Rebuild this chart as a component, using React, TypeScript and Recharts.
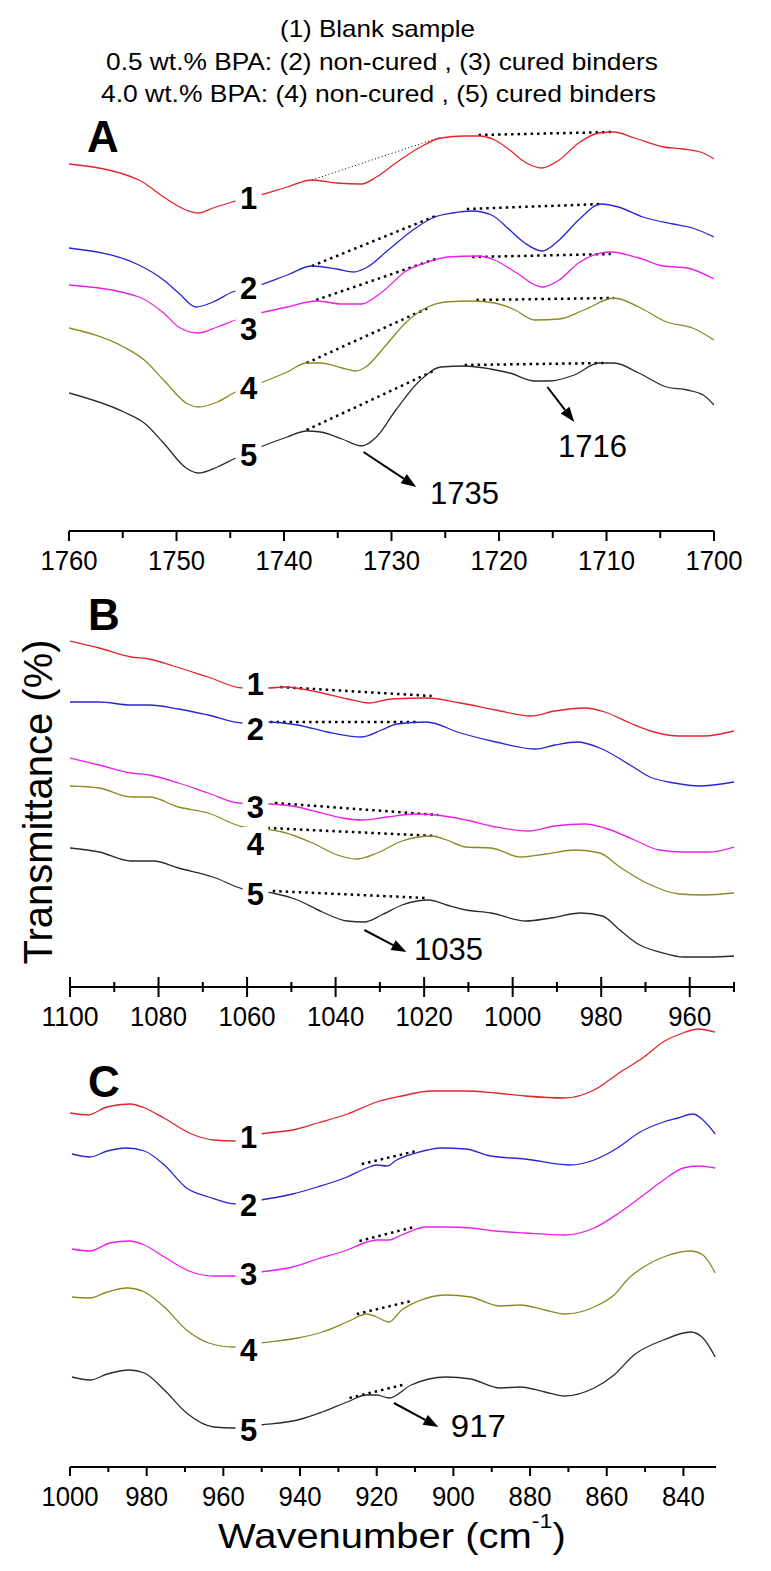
import React from 'react';
import { LineChart, Line, XAxis, YAxis, ReferenceLine, ReferenceDot } from 'recharts';

type Pt = [number, number];
type Seg = [number, number, number, number, number?];
type Note = { w: number; t: number; text: string };

const FONT = '"Liberation Sans", Arial, sans-serif';

// ---- panel A: 1760-1700 cm-1 (wavenumber, transmittance a.u.)
const redA: Pt[] = [
  [1760, 36.7], [1753.5, 35.1], [1751.2, 33.4], [1749.1, 32.1], [1748, 31.8], [1746.6, 32.3],
  [1744.8, 32.9], [1742.2, 33.6], [1739.7, 34.4], [1737.4, 35.1], [1735.1, 34.8], [1732.8, 34.7],
  [1731.4, 35.4], [1729.6, 36.8], [1727.3, 38.4], [1725.4, 39.3], [1723.2, 39.5], [1721.8, 39.5],
  [1720.4, 39.1], [1719, 38.1], [1717.6, 36.9], [1716, 36.3], [1714.4, 37.1], [1712.6, 38.8],
  [1710.7, 39.8], [1709.3, 39.9], [1707.4, 39.3], [1704.7, 38.4], [1702.9, 38.2], [1701, 37.8], [1700, 37.2],
];
const blueA: Pt[] = [
  [1760, 28.3], [1753.5, 26.6], [1751.2, 25.1], [1749.8, 23.8], [1748.2, 22.4], [1746.6, 22.9],
  [1744.8, 23.9], [1742.2, 24.6], [1739.7, 25.6], [1737.4, 26.5], [1735.1, 26.2], [1733.5, 25.9],
  [1732.4, 26.3], [1730.3, 28.1], [1728, 30.1], [1726.2, 31.3], [1724.3, 31.8], [1722.5, 32.0],
  [1720.7, 31.6], [1719, 30.1], [1717.6, 28.8], [1716, 28.0], [1714.4, 29.1], [1712.6, 31.1],
  [1710.5, 32.7], [1708.9, 32.4], [1706.6, 31.4], [1703.8, 30.7], [1702, 30.3], [1700, 29.4],
];
const magentaA: Pt[] = [
  [1760, 24.6], [1753.5, 23.4], [1751.2, 21.8], [1749.8, 20.4], [1748, 19.8], [1746.2, 20.4],
  [1744.5, 21.1], [1742.2, 21.8], [1739.7, 22.4], [1737, 23.0], [1734.6, 22.7], [1732.8, 22.7],
  [1731, 23.8], [1728.5, 26.1], [1726.6, 26.9], [1724.8, 27.4], [1722, 27.5], [1720.4, 27.1],
  [1718.5, 25.9], [1716, 24.4], [1714.4, 25.1], [1712.6, 26.8], [1709.6, 27.9], [1707, 27.3],
  [1704.7, 26.5], [1702.5, 26.3], [1700, 25.2],
];
const oliveA: Pt[] = [
  [1760, 20.3], [1754.9, 18.4], [1753, 17.1], [1751.2, 15.1], [1749.1, 12.8], [1748, 12.4],
  [1746.2, 12.9], [1744.5, 13.9], [1742.2, 14.8], [1739.7, 15.9], [1737.9, 16.8], [1736.6, 16.8],
  [1734.6, 16.3], [1733.3, 16.0], [1732.4, 16.4], [1730.5, 18.6], [1728.7, 20.8], [1726.8, 22.3],
  [1725, 22.9], [1722.6, 23.0], [1720.4, 22.8], [1718.5, 22.1], [1716.7, 21.1], [1714.4, 21.2],
  [1712.1, 22.1], [1709.3, 23.3], [1707, 22.4], [1704.4, 20.9], [1702, 20.3], [1700, 19.1],
];
const blackA: Pt[] = [
  [1760, 13.8], [1754.9, 11.9], [1753, 10.8], [1751.2, 8.8], [1749.1, 6.3], [1748, 5.8],
  [1746.2, 6.4], [1744.5, 7.3], [1742.2, 8.4], [1739.7, 9.4], [1737.9, 10.0], [1736.6, 9.9],
  [1734.6, 9.2], [1732.8, 8.5], [1731.4, 9.4], [1729.6, 12.1], [1727.3, 15.1], [1725.4, 16.4],
  [1723.2, 16.5], [1720.8, 16.2], [1719, 15.8], [1716.7, 15.0], [1715.3, 15.0], [1713, 15.6],
  [1710.7, 16.8], [1709.3, 16.8], [1707, 15.8], [1704.4, 14.4], [1702.5, 14.1], [1701, 13.6], [1700, 12.6],
];

// ---- panel B: 1100-950 cm-1
const redB: Pt[] = [
  [1100, 34.6], [1093.4, 33.9], [1086.2, 33.0], [1082.1, 32.8], [1076.7, 32.1], [1068.8, 31.0],
  [1060.9, 29.9], [1055.4, 29.9], [1051.4, 30.0], [1044.1, 29.5], [1037.3, 28.8], [1032.4, 28.4],
  [1027.4, 28.8], [1019.5, 28.9], [1011.8, 28.4], [1003.8, 27.7], [995.9, 27.1], [990.5, 27.6],
  [983.7, 27.9], [979.2, 27.5], [973.5, 26.4], [968.1, 25.5], [962.4, 25.1], [956.8, 25.1], [950, 25.6],
];
const blueB: Pt[] = [
  [1100, 28.5], [1093.4, 28.5], [1086.2, 28.2], [1082.1, 28.2], [1075.5, 27.8], [1068.8, 27.2],
  [1060.9, 26.4], [1055.4, 26.5], [1048.6, 26.2], [1041.9, 25.5], [1034.1, 25.0], [1029.6, 25.7],
  [1026.2, 26.3], [1019.5, 26.5], [1011.8, 25.4], [1003.8, 24.5], [994.8, 23.8], [990.5, 24.2],
  [985.4, 24.5], [980.3, 23.9], [973.5, 22.2], [969, 21.0], [963.5, 20.4], [957.9, 20.1], [950, 20.5],
];
const magentaB: Pt[] = [
  [1100, 22.9], [1093.4, 22.2], [1086.2, 21.4], [1082.1, 21.2], [1075.5, 20.4], [1068.8, 19.4],
  [1062, 18.4], [1054.8, 18.3], [1048.6, 18.0], [1044, 17.5], [1038.5, 16.9], [1034, 16.7],
  [1028.4, 17.0], [1021.7, 17.3], [1017.2, 17.2], [1010.5, 16.7], [1003.8, 16.0], [996.5, 15.6],
  [990.5, 16.1], [983.7, 16.3], [979.2, 15.9], [972.5, 14.7], [966.9, 13.7], [961.3, 13.5],
  [955.7, 13.5], [950, 14.0],
];
const oliveB: Pt[] = [
  [1100, 20.1], [1093.4, 19.9], [1086.2, 19.0], [1082.1, 19.0], [1075.5, 18.0], [1068.8, 17.4],
  [1060.9, 16.0], [1056, 15.8], [1052, 15.5], [1045.2, 14.4], [1039.6, 13.2], [1035.1, 12.8],
  [1030.6, 13.4], [1025, 14.6], [1018.3, 15.1], [1014.9, 14.7], [1010.5, 14.0], [1004.9, 13.9],
  [998.2, 13.0], [992.5, 13.3], [985.8, 13.7], [980.3, 13.4], [975.8, 12.0], [970.2, 10.5],
  [962.4, 9.3], [956.8, 9.2], [950, 9.4],
];
const blackB: Pt[] = [
  [1100, 13.9], [1093.4, 13.5], [1086.2, 12.6], [1081.1, 12.6], [1075.5, 11.9], [1067.7, 11.0],
  [1060.9, 9.8], [1054.2, 9.4], [1048.6, 8.7], [1043, 7.5], [1037.4, 6.6], [1033.5, 6.5],
  [1029.6, 7.2], [1025, 8.2], [1018.9, 8.7], [1014.9, 8.2], [1010.5, 7.7], [1004.9, 7.4],
  [997, 6.6], [991.4, 6.9], [984.7, 7.4], [979.7, 7.1], [975.8, 5.7], [971.3, 4.2], [966.8, 3.5],
  [961.3, 3.0], [955.7, 3.0], [950, 3.1],
];

// ---- panel C: 1000-832 cm-1
const redC: Pt[] = [
  [1000, 35.4], [995.3, 35.2], [990.4, 36.0], [984.4, 36.3], [980.5, 35.9], [975.5, 34.9],
  [968.3, 33.3], [962.5, 32.7], [956.8, 32.6], [950.3, 33.3], [941.9, 33.7], [935.4, 34.4],
  [927.6, 35.3], [920, 36.5], [913.5, 37.1], [905.7, 37.6], [896.9, 37.6], [889.1, 37.4],
  [881.3, 37.1], [871.1, 36.9], [863.3, 37.7], [856.8, 39.4], [850.3, 41.0], [845.3, 42.5],
  [840.1, 43.4], [836.2, 43.8], [831.8, 43.5],
];
const blueC: Pt[] = [
  [999.5, 31.3], [994.8, 31.0], [990.3, 31.6], [985.1, 31.9], [980.6, 31.6], [975.4, 30.2],
  [969.6, 27.9], [963.8, 27.0], [956.7, 26.3], [950.3, 26.7], [941.9, 27.3], [935.5, 28.0],
  [927.7, 29.0], [922.6, 29.9], [920, 30.2], [917.4, 30.1], [914.8, 30.7], [909.7, 31.4],
  [903.2, 31.9], [896.8, 31.8], [890.3, 31.1], [881.3, 30.8], [869.7, 30.2], [863.3, 30.7],
  [856.8, 32.0], [851.7, 33.4], [845.2, 34.5], [841.4, 34.9], [837.5, 35.3], [834.9, 34.7], [831.7, 33.3],
];
const magentaC: Pt[] = [
  [999.5, 21.8], [994.8, 21.6], [989.6, 22.4], [984.5, 22.6], [980.6, 22.2], [975.4, 21.0],
  [969, 19.6], [962.5, 19.1], [956.7, 19.1], [950.3, 19.5], [941.9, 20.0], [935.5, 20.8],
  [927.7, 21.7], [922.6, 22.5], [920, 22.7], [916.8, 22.7], [913.5, 23.2], [907.1, 24.0],
  [902, 24.0], [895.5, 23.9], [889.1, 23.6], [881.3, 23.4], [871, 23.2], [863.3, 23.9],
  [856.8, 25.4], [850.4, 27.2], [845.2, 28.7], [840, 29.9], [836.2, 30.1], [831.7, 29.9],
];
const oliveC: Pt[] = [
  [999.5, 17.0], [994.8, 16.9], [990.3, 17.5], [985.1, 17.9], [980.6, 17.5], [975.4, 16.0],
  [969.6, 13.7], [963.8, 12.4], [957.4, 12.0], [950.3, 12.4], [940.6, 12.9], [934.2, 13.5],
  [927.7, 14.5], [922.6, 15.3], [920, 15.0], [916.8, 14.5], [913.5, 15.7], [909.7, 16.5],
  [902, 17.2], [895.5, 17.0], [887.8, 16.1], [882.6, 16.2], [876.1, 15.7], [871, 15.3],
  [863.3, 16.0], [858.1, 17.2], [854.2, 18.9], [850.4, 20.0], [845.2, 21.0], [838.1, 21.6],
  [834.9, 21.2], [831.7, 19.4],
];
const blackC: Pt[] = [
  [999.5, 9.0], [994.8, 8.7], [990.3, 9.3], [984.5, 9.7], [980.6, 9.4], [975.4, 7.7],
  [969.6, 5.4], [962.5, 4.0], [957.4, 3.9], [950.3, 4.2], [940.6, 4.7], [934.2, 5.5],
  [927.7, 6.5], [922.6, 7.2], [920, 7.2], [916.8, 6.9], [911, 8.2], [902, 9.0], [895.5, 8.8],
  [887.8, 7.9], [882.6, 8.0], [876.1, 7.5], [871, 7.1], [863.3, 7.9], [858.1, 9.2],
  [852.9, 11.2], [845.2, 12.7], [838.1, 13.5], [834.9, 12.9], [831.7, 11.0],
];

const ticksA = [1760, 1755, 1750, 1745, 1740, 1735, 1730, 1725, 1720, 1715, 1710, 1705, 1700];
const ticksB = [1100, 1090, 1080, 1070, 1060, 1050, 1040, 1030, 1020, 1010, 1000, 990, 980, 970, 960, 950];
const ticksC = [1000, 990, 980, 970, 960, 950, 940, 930, 920, 910, 900, 890, 880, 870, 860, 850, 840];

const curveNames = ['1', '2', '3', '4', '5'];
const colors = ['#e3242b', '#2626d4', '#ec1eec', '#8a8a20', '#2b2b2b'];

// label positions of curve numbers
const labelsA: Pt[] = [[1743.3, 33.3], [1743.3, 24.3], [1743.3, 20.2], [1743.3, 14.3], [1743.3, 7.6]];
const labelsB: Pt[] = [[1058.1, 30.3], [1058.1, 25.8], [1058.1, 18.0], [1058.1, 14.3], [1058.1, 9.3]];
const labelsC: Pt[] = [[953.4, 33.0], [953.4, 26.2], [953.4, 19.3], [953.4, 11.7], [953.4, 3.7]];

// dotted baselines (x1, y1, x2, y2, thin)
const dotsA: Seg[] = [
  [1737.4, 35.1, 1725.4, 39.4, 1], [1721.9, 39.6, 1709.3, 39.9],
  [1737.4, 26.5, 1725.9, 31.5], [1723.0, 32.2, 1710.4, 32.7],
  [1737.0, 23.1, 1725.9, 27.2], [1722.5, 27.4, 1709.6, 27.7],
  [1737.9, 16.8, 1726.4, 22.4], [1722.1, 23.1, 1709.3, 23.3],
  [1737.9, 10.1, 1725.9, 16.1], [1723.2, 16.6, 1710.2, 16.8],
];
const dotsB: Seg[] = [
  [1052.5, 30.0, 1018.3, 29.1], [1054.8, 26.5, 1021.3, 26.5], [1053.7, 18.4, 1016.8, 17.2],
  [1055.4, 15.9, 1017.2, 15.1], [1054.2, 9.6, 1019.5, 8.9],
];
const dotsC: Seg[] = [
  [923.9, 30.3, 909.7, 31.6], [924.5, 22.6, 910.3, 24.0], [925.2, 15.3, 911.0, 16.6], [927.1, 6.9, 912.3, 8.3],
];

const arrowsA: Seg[] = [[1715.5, 14.4, 1713.0, 10.9], [1732.6, 7.9, 1727.7, 4.4]];
const arrowsB: Seg[] = [[1033.5, 5.7, 1024.0, 3.5]];
const arrowsC: Seg[] = [[915.5, 6.4, 903.9, 4.0]];

const notesA: Note[] = [{ w: 1711.3, t: 8.6, text: '1716' }, { w: 1723.2, t: 3.9, text: '1735' }];
const notesB: Note[] = [{ w: 1014.5, t: 3.9, text: '1035' }];
const notesC: Note[] = [{ w: 893.5, t: 4.2, text: '917' }];

const rows = (s: Pt[]) => s.map(([w, t]) => ({ w, t }));

const ArrowShape = (p: any) => {
  const { x1, y1, x2, y2 } = p;
  const a = Math.atan2(y2 - y1, x2 - x1);
  const L = 15;
  const W = 5.5;
  const bx = x2 - L * Math.cos(a);
  const by = y2 - L * Math.sin(a);
  const pts = `${x2},${y2} ${bx + W * Math.sin(a)},${by - W * Math.cos(a)} ${bx - W * Math.sin(a)},${by + W * Math.cos(a)}`;
  return (
    <g>
      <line x1={x1} y1={y1} x2={bx} y2={by} stroke="#000" strokeWidth={2} />
      <polygon points={pts} fill="#000" />
    </g>
  );
};

interface PanelProps {
  left: number;
  top: number;
  plotW: number;
  plotH: number;
  domain: [number, number];
  ticks: number[];
  majorStep: number;
  up: number;
  majLen: number;
  minLen: number;
  series: Pt[][];
  dots: Seg[];
  arrows: Seg[];
  notes: Note[];
  labels: Pt[];
}

function Panel(p: PanelProps) {
  const m = { top: 10, right: 60, bottom: 0, left: 40 };
  const renderTick = (tp: any) => {
    const { x, y, payload } = tp;
    const major = Math.round(payload.value) % p.majorStep === 0;
    const label = String(payload.value);
    return (
      <g>
        <line
          x1={x} x2={x}
          y1={y - (major ? p.up : p.up / 2)}
          y2={y + (major ? p.majLen : p.minLen)}
          stroke="#000" strokeWidth={2}
        />
        {major && (
          <text x={x} y={y + 39} textAnchor="middle" fontSize={28} fontFamily={FONT} fill="#000"
            textLength={label.length * 14.3} lengthAdjust="spacingAndGlyphs">
            {label}
          </text>
        )}
      </g>
    );
  };

  return (
    <div style={{ position: 'absolute', left: p.left - m.left, top: p.top - m.top }}>
      <LineChart width={p.plotW + m.left + m.right} height={p.plotH + m.top + 50} margin={m}>
        <XAxis
          type="number"
          dataKey="w"
          domain={p.domain}
          reversed
          allowDataOverflow
          ticks={p.ticks}
          interval={0}
          height={50}
          tickSize={0}
          tickMargin={0}
          tickLine={false}
          tick={renderTick}
          axisLine={{ stroke: '#000', strokeWidth: 2 }}
        />
        <YAxis
          type="number"
          domain={[0, p.plotH / 10]}
          allowDataOverflow
          width={0}
          tick={false}
          tickLine={false}
          axisLine={{ stroke: '#000', strokeWidth: 2 }}
        />
        {p.dots.map((d, i) => (
          <ReferenceLine
            key={`d${i}`}
            segment={[{ x: d[0], y: d[1] }, { x: d[2], y: d[3] }]}
            stroke="#000"
            strokeWidth={d[4] ? 1 : 2.5}
            strokeDasharray={d[4] ? '1 2.5' : '2.5 4'}
            ifOverflow="visible"
          />
        ))}
        {p.series.map((s, i) => (
          <Line
            key={`s${i}`}
            data={rows(s)}
            dataKey="t"
            type="monotone"
            stroke={colors[i]}
            strokeWidth={1.3}
            dot={false}
            activeDot={false}
            isAnimationActive={false}
          />
        ))}
        {p.arrows.map((a, i) => (
          <ReferenceLine
            key={`a${i}`}
            segment={[{ x: a[0], y: a[1] }, { x: a[2], y: a[3] }]}
            ifOverflow="visible"
            shape={ArrowShape}
          />
        ))}
        {p.labels.map((l, i) => (
          <ReferenceDot
            key={`l${i}`}
            x={l[0]}
            y={l[1]}
            r={0}
            ifOverflow="visible"
            shape={(dp: any) => (
              <g>
                <rect x={dp.cx - 13} y={dp.cy - 17} width={26} height={34} fill="#fff" />
                <text x={dp.cx} y={dp.cy + 11} textAnchor="middle" fontSize={31} fontWeight="bold" fontFamily={FONT} fill="#000">
                  {curveNames[i]}
                </text>
              </g>
            )}
          />
        ))}
        {p.notes.map((n, i) => (
          <ReferenceDot
            key={`n${i}`}
            x={n.w}
            y={n.t}
            r={0}
            ifOverflow="visible"
            shape={(dp: any) => (
              <text x={dp.cx} y={dp.cy + 12} textAnchor="middle" fontSize={32} fontFamily={FONT} fill="#000"
                textLength={n.text.length === 3 ? 55 : 69} lengthAdjust="spacingAndGlyphs">
                {n.text}
              </text>
            )}
          />
        ))}
      </LineChart>
    </div>
  );
}

export default function App() {
  return (
    <div style={{ position: 'absolute', left: 0, top: 0, width: 771, height: 1571, overflow: 'hidden', background: '#fff' }}>
      <Panel left={69} top={95} plotW={645} plotH={436} domain={[1700, 1760]} ticks={ticksA} majorStep={10}
        up={0} majLen={10} minLen={7} series={[redA, blueA, magentaA, oliveA, blackA]}
        dots={dotsA} arrows={arrowsA} notes={notesA} labels={labelsA} />
      <Panel left={70} top={563} plotW={664} plotH={424} domain={[950, 1100]} ticks={ticksB} majorStep={20}
        up={10} majLen={10} minLen={5} series={[redB, blueB, magentaB, oliveB, blackB]}
        dots={dotsB} arrows={arrowsB} notes={notesB} labels={labelsB} />
      <Panel left={70} top={1028} plotW={646} plotH={439} domain={[831.5, 1000]} ticks={ticksC} majorStep={20}
        up={0} majLen={9} minLen={5} series={[redC, blueC, magentaC, oliveC, blackC]}
        dots={dotsC} arrows={arrowsC} notes={notesC} labels={labelsC} />
      <svg width={771} height={1571} style={{ position: 'absolute', left: 0, top: 0, pointerEvents: 'none' }}
        fontFamily={FONT} fill="#000">
        <text x={280} y={37} fontSize={24} textLength={195} lengthAdjust="spacingAndGlyphs">(1) Blank sample</text>
        <text x={106} y={70} fontSize={24} textLength={552} lengthAdjust="spacingAndGlyphs">
          0.5 wt.% BPA: (2) non-cured , (3) cured binders
        </text>
        <text x={101} y={102} fontSize={24} textLength={555} lengthAdjust="spacingAndGlyphs">
          4.0 wt.% BPA: (4) non-cured , (5) cured binders
        </text>
        <text x={87} y={152} fontSize={44} fontWeight="bold">A</text>
        <text x={88} y={630} fontSize={44} fontWeight="bold">B</text>
        <text x={88} y={1097} fontSize={44} fontWeight="bold">C</text>
        <text transform="translate(52,802) rotate(-90)" textAnchor="middle" fontSize={41}
          textLength={325} lengthAdjust="spacingAndGlyphs">
          Transmittance (%)
        </text>
        <text transform="translate(218,1548) scale(1.11,1)" fontSize={36}>
          Wavenumber (cm<tspan dy={-20} fontSize={21}>-1</tspan><tspan dy={20}>)</tspan>
        </text>
      </svg>
    </div>
  );
}
